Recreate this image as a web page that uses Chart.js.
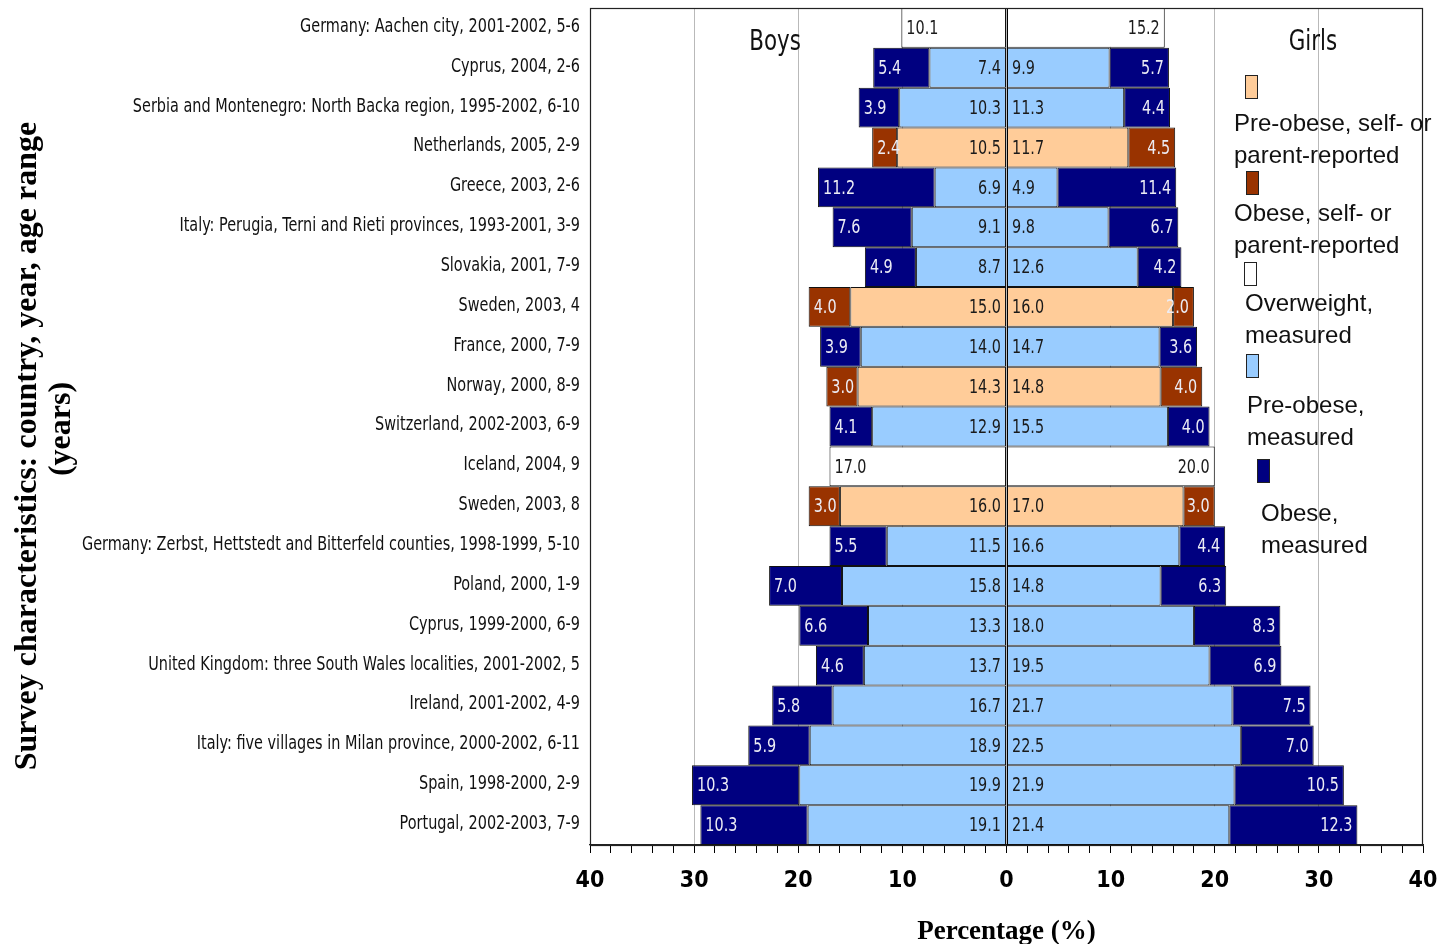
<!DOCTYPE html>
<html>
<head>
<meta charset="utf-8">
<script src="https://cdn.jsdelivr.net/npm/chart.js@4.4.1/dist/chart.umd.min.js"></script>
<style>
  html, body { margin: 0; padding: 0; background: #fff; }
  #c { display: block; }
</style>
</head>
<body>
<canvas id="c" width="1443" height="944"></canvas>
<script>
// ---------- DATA ----------
const categories = [
  "Germany: Aachen city, 2001-2002, 5-6",
  "Cyprus, 2004, 2-6",
  "Serbia and Montenegro: North Backa region, 1995-2002, 6-10",
  "Netherlands, 2005, 2-9",
  "Greece, 2003, 2-6",
  "Italy: Perugia, Terni and Rieti provinces, 1993-2001, 3-9",
  "Slovakia, 2001, 7-9",
  "Sweden, 2003, 4",
  "France, 2000, 7-9",
  "Norway, 2000, 8-9",
  "Switzerland, 2002-2003, 6-9",
  "Iceland, 2004, 9",
  "Sweden, 2003, 8",
  "Germany: Zerbst, Hettstedt and Bitterfeld counties, 1998-1999, 5-10",
  "Poland, 2000, 1-9",
  "Cyprus, 1999-2000, 6-9",
  "United Kingdom: three South Wales localities, 2001-2002, 5",
  "Ireland, 2001-2002, 4-9",
  "Italy: five villages in Milan province, 2000-2002, 6-11",
  "Spain, 1998-2000, 2-9",
  "Portugal, 2002-2003, 7-9"
];

const boysPreObeseMeasured  = [null, 7.4, 10.3, null, 6.9, 9.1, 8.7, null, 14.0, null, 12.9, null, null, 11.5, 15.8, 13.3, 13.7, 16.7, 18.9, 19.9, 19.1];
const boysObeseMeasured     = [null, 5.4, 3.9, null, 11.2, 7.6, 4.9, null, 3.9, null, 4.1, null, null, 5.5, 7.0, 6.6, 4.6, 5.8, 5.9, 10.3, 10.3];
const boysPreObeseReported  = [null, null, null, 10.5, null, null, null, 15.0, null, 14.3, null, null, 16.0, null, null, null, null, null, null, null, null];
const boysObeseReported     = [null, null, null, 2.4, null, null, null, 4.0, null, 3.0, null, null, 3.0, null, null, null, null, null, null, null, null];
const boysOverweightMeasured= [10.1, null, null, null, null, null, null, null, null, null, null, 17.0, null, null, null, null, null, null, null, null, null];

const girlsPreObeseMeasured = [null, 9.9, 11.3, null, 4.9, 9.8, 12.6, null, 14.7, null, 15.5, null, null, 16.6, 14.8, 18.0, 19.5, 21.7, 22.5, 21.9, 21.4];
const girlsObeseMeasured    = [null, 5.7, 4.4, null, 11.4, 6.7, 4.2, null, 3.6, null, 4.0, null, null, 4.4, 6.3, 8.3, 6.9, 7.5, 7.0, 10.5, 12.3];
const girlsPreObeseReported = [null, null, null, 11.7, null, null, null, 16.0, null, 14.8, null, null, 17.0, null, null, null, null, null, null, null, null];
const girlsObeseReported    = [null, null, null, 4.5, null, null, null, 2.0, null, 4.0, null, null, 3.0, null, null, null, null, null, null, null, null];
const girlsOverweightMeasured=[15.2, null, null, null, null, null, null, null, null, null, null, 20.0, null, null, null, null, null, null, null, null, null];

const xTickValues = [40, 30, 20, 10, 0, 10, 20, 30, 40];
const seriesNames = [
  "Pre-obese, self- or parent-reported",
  "Obese, self- or parent-reported",
  "Overweight, measured",
  "Pre-obese, measured",
  "Obese, measured"
];
const legendLines = [
  ["Pre-obese, self- or", "parent-reported"],
  ["Obese, self- or", "parent-reported"],
  ["Overweight,", "measured"],
  ["Pre-obese,", "measured"],
  ["Obese,", "measured"]
];
const sideLabels = ["Boys", "Girls"];
const yTitleLines = ["Survey characteristics: country, year, age range", "(years)"];
const xTitle = "Percentage (%)";

// ---------- STYLE ----------
const COL = {
  preRep: "#FFCC99",
  obRep: "#993300",
  ow: "#FFFFFF",
  preMeas: "#99CCFF",
  obMeas: "#000080"
};
const NARROW = "'Liberation Sans Narrow', 'DejaVu Sans Condensed', 'Arial Narrow', sans-serif";
const SANS = "'Liberation Sans', Arial, sans-serif";
const SERIF = "'Liberation Serif', 'Times New Roman', serif";

const neg = a => a.map(v => v == null ? null : -v);

function ds(label, data, color, role, side) {
  return {
    label, data, backgroundColor: color, borderColor: "#111", borderWidth: 1,
    borderSkipped: false, stack: "s", role, side, inflateAmount: 0
  };
}

const datasets = [
  ds(seriesNames[3], neg(boysPreObeseMeasured), COL.preMeas, "inner", "boys"),
  ds(seriesNames[0], neg(boysPreObeseReported), COL.preRep, "inner", "boys"),
  ds(seriesNames[4], neg(boysObeseMeasured), COL.obMeas, "outer", "boys"),
  ds(seriesNames[1], neg(boysObeseReported), COL.obRep, "outer", "boys"),
  ds(seriesNames[2], neg(boysOverweightMeasured), COL.ow, "outer", "boys"),
  ds(seriesNames[3], girlsPreObeseMeasured, COL.preMeas, "inner", "girls"),
  ds(seriesNames[0], girlsPreObeseReported, COL.preRep, "inner", "girls"),
  ds(seriesNames[4], girlsObeseMeasured, COL.obMeas, "outer", "girls"),
  ds(seriesNames[1], girlsObeseReported, COL.obRep, "outer", "girls"),
  ds(seriesNames[2], girlsOverweightMeasured, COL.ow, "outer", "girls")
];

const darkFills = [COL.obMeas, COL.obRep];

// draw horizontally condensed text
function narrowText(ctx, txt, x, y, align, sx) {
  ctx.save();
  ctx.translate(x, y);
  ctx.scale(sx, 1);
  ctx.textAlign = align;
  ctx.fillText(txt, 0, 0);
  ctx.restore();
}

// ---------- PLUGINS ----------
const frameAndText = {
  id: "frameAndText",
  afterDatasetsDraw(chart) {
    const ctx = chart.ctx;
    const ca = chart.chartArea;
    // zero line
    const zx = Math.round(chart.scales.x.getPixelForValue(0)) + 0.5;
    ctx.save();
    ctx.strokeStyle = "#000";
    ctx.lineWidth = 1;
    ctx.beginPath();
    ctx.moveTo(zx, ca.top);
    ctx.lineTo(zx, ca.bottom);
    ctx.stroke();
    // value labels
    ctx.font = "20px " + NARROW;
    ctx.textBaseline = "middle";
    chart.data.datasets.forEach((d, di) => {
      const meta = chart.getDatasetMeta(di);
      meta.data.forEach((el, i) => {
        const raw = d.data[i];
        if (raw == null) return;
        const p = el.getProps(["x", "y", "base"], true);
        const lo = Math.min(p.x, p.base), hi = Math.max(p.x, p.base);
        const txt = Math.abs(raw).toFixed(1);
        ctx.fillStyle = darkFills.includes(d.backgroundColor) ? "#ececf4" : "#1a1a1a";
        let x, align;
        if (d.side === "boys") {
          if (d.role === "inner") { align = "right"; x = hi - 5; } else { align = "left"; x = lo + 5; }
        } else {
          if (d.role === "inner") { align = "left"; x = lo + 5; } else { align = "right"; x = hi - 5; }
        }
        narrowText(ctx, txt, x, p.y + 1, align, 0.8);
      });
    });
    ctx.restore();
  },
  afterDraw(chart) {
    const ctx = chart.ctx;
    const ca = chart.chartArea;
    const ys = chart.scales.y;
    ctx.save();
    // category labels (y axis)
    ctx.font = "19px " + NARROW;
    ctx.fillStyle = "#111";
    ctx.textBaseline = "middle";
    chart.data.labels.forEach((lab, i) => {
      narrowText(ctx, lab, ca.left - 10, ys.getPixelForValue(i) - 1, "right", 0.845);
    });
    // frame
    ctx.strokeStyle = "#222";
    ctx.lineWidth = 1.2;
    ctx.strokeRect(ca.left + 0.5, ca.top + 0.5, ca.right - ca.left - 1, ca.bottom - ca.top);
    // Boys / Girls
    ctx.fillStyle = "#111";
    ctx.font = "28px " + NARROW;
    ctx.textBaseline = "middle";
    narrowText(ctx, sideLabels[0], 775, 43, "center", 0.85);
    narrowText(ctx, sideLabels[1], 1313, 43, "center", 0.85);
    // legend
    const fills = [COL.preRep, COL.obRep, COL.ow, COL.preMeas, COL.obMeas];
    const boxes = [[1245, 75], [1246, 171], [1244, 262], [1246, 354], [1257, 459]];
    const texts = [[1234, 124], [1234, 214], [1245, 304], [1247, 406], [1261, 514]];
    ctx.font = "24px " + SANS;
    ctx.textAlign = "left";
    legendLines.forEach((lines, k) => {
      ctx.fillStyle = fills[k];
      ctx.fillRect(boxes[k][0], boxes[k][1], 13, 24);
      ctx.strokeStyle = "#222";
      ctx.lineWidth = 1;
      ctx.strokeRect(boxes[k][0] + 0.5, boxes[k][1] + 0.5, 12, 23);
      ctx.fillStyle = "#111";
      lines.forEach((ln, j) => ctx.fillText(ln, texts[k][0], texts[k][1] + j * 32));
    });
    // y title
    ctx.font = "bold 32px " + SERIF;
    ctx.textAlign = "center";
    ctx.fillStyle = "#000";
    ctx.translate(28, 446);
    ctx.rotate(-Math.PI / 2);
    ctx.fillText(yTitleLines[0], 0, 0);
    ctx.fillText(yTitleLines[1], 17, 34);
    ctx.restore();
  }
};

new Chart(document.getElementById("c"), {
  type: "bar",
  data: { labels: categories, datasets },
  options: {
    indexAxis: "y",
    responsive: false,
    animation: false,
    devicePixelRatio: 1,
    layout: { padding: { left: 0, right: 20, top: 8, bottom: 0 } },
    datasets: { bar: { barPercentage: 1, categoryPercentage: 1 } },
    plugins: { legend: { display: false }, tooltip: { enabled: false }, title: { display: false } },
    scales: {
      x: {
        type: "linear",
        stacked: true,
        min: -40, max: 40,
        afterFit: s => { s.height = 99; s.paddingLeft = 0; s.paddingRight = 0; },
        afterBuildTicks: s => {
          const t = [];
          for (let v = -40; v <= 40; v += 2) t.push({ value: v });
          s.ticks = t;
        },
        ticks: {
          autoSkip: false,
          maxRotation: 0,
          padding: 14,
          color: "#000",
          font: { family: NARROW, size: 23, weight: "bold" },
          callback: v => (v % 10 === 0 ? String(xTickValues[(v + 40) / 10]) : "")
        },
        grid: {
          drawOnChartArea: true,
          color: c => (c.tick && c.tick.value % 10 === 0 && Math.abs(c.tick.value) !== 40 ? "#b9b9b9" : "rgba(0,0,0,0)"),
          tickColor: "#000",
          tickLength: 8,
          lineWidth: 1
        },
        border: { display: true, color: "#222", width: 1.2 },
        title: {
          display: true,
          text: xTitle,
          color: "#000",
          font: { family: SERIF, size: 27, weight: "bold", lineHeight: 0.9 },
          padding: { top: 0, bottom: 0 }
        }
      },
      y: {
        stacked: true,
        afterFit: s => { s.width = 590; },
        grid: { display: false, drawTicks: false },
        border: { display: false },
        ticks: { display: false }
      }
    }
  },
  plugins: [frameAndText]
});
</script>
</body>
</html>
